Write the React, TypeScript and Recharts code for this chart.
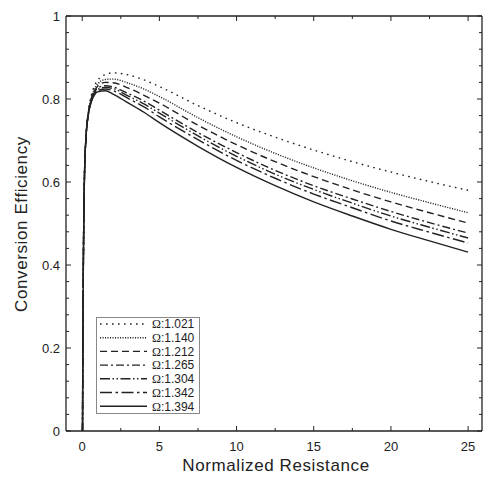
import { Legend, Line, LineChart, XAxis, YAxis } from "recharts"

const resistance = [0.02, 0.04, 0.07, 0.1, 0.15, 0.25, 0.4, 0.6, 0.8, 1, 1.5, 2, 3, 4, 5, 7.5, 10, 12.5, 15, 17.5, 20, 22.5, 25]

const eff1021 = [0, 0.19, 0.38, 0.5, 0.62, 0.71, 0.77, 0.81, 0.832, 0.845, 0.859, 0.863, 0.858, 0.846, 0.83, 0.784, 0.743, 0.708, 0.677, 0.649, 0.624, 0.601, 0.58]
const eff1140 = [0, 0.19, 0.38, 0.5, 0.62, 0.71, 0.768, 0.805, 0.825, 0.836, 0.847, 0.848, 0.838, 0.824, 0.806, 0.755, 0.709, 0.669, 0.634, 0.603, 0.575, 0.55, 0.526]
const eff1212 = [0, 0.19, 0.38, 0.5, 0.62, 0.71, 0.766, 0.802, 0.82, 0.831, 0.84, 0.839, 0.826, 0.809, 0.79, 0.737, 0.69, 0.649, 0.613, 0.581, 0.552, 0.526, 0.501]
const eff1265 = [0, 0.19, 0.38, 0.5, 0.62, 0.71, 0.765, 0.8, 0.817, 0.826, 0.832, 0.829, 0.813, 0.795, 0.773, 0.719, 0.671, 0.628, 0.591, 0.559, 0.529, 0.502, 0.477]
const eff1304 = [0, 0.19, 0.38, 0.5, 0.62, 0.71, 0.764, 0.798, 0.814, 0.823, 0.828, 0.825, 0.807, 0.788, 0.766, 0.711, 0.662, 0.619, 0.582, 0.549, 0.518, 0.491, 0.465]
const eff1342 = [0, 0.19, 0.38, 0.5, 0.62, 0.71, 0.763, 0.796, 0.812, 0.82, 0.824, 0.82, 0.801, 0.781, 0.757, 0.702, 0.652, 0.609, 0.571, 0.538, 0.506, 0.479, 0.453]
const eff1394 = [0, 0.19, 0.38, 0.5, 0.62, 0.71, 0.762, 0.794, 0.81, 0.817, 0.82, 0.812, 0.79, 0.768, 0.743, 0.686, 0.635, 0.591, 0.552, 0.518, 0.486, 0.458, 0.431]

const xMajor = [0, 5, 10, 15, 20, 25]
const xMinor = [2.5, 7.5, 12.5, 17.5, 22.5]
const yMajor = [0, 0.2, 0.4, 0.6, 0.8, 1]
const yLabels = ["0", "0.2", "0.4", "0.6", "0.8", "1"]

const ink = "#222"

const series = [
  { key: "o1021", label: "1.021", values: eff1021, dash: "1.6 4.4" },
  { key: "o1140", label: "1.140", values: eff1140, dash: "1.1 1.4" },
  { key: "o1212", label: "1.212", values: eff1212, dash: "7 4" },
  { key: "o1265", label: "1.265", values: eff1265, dash: "8 3 2 3" },
  { key: "o1304", label: "1.304", values: eff1304, dash: "10 2.5 1.5 2.5 1.5 2.5" },
  { key: "o1342", label: "1.342", values: eff1342, dash: "12 3.5 2.5 3.5" },
  { key: "o1394", label: "1.394", values: eff1394, dash: undefined },
]

const data = resistance.map((x, i) => {
  const row: Record<string, number> = { x }
  series.forEach((s) => (row[s.key] = s.values[i]))
  return row
})

// minor y ticks every 0.04
const yAll: number[] = []
for (let k = 0; k <= 25; k++) yAll.push(Math.round(k * 4) / 100)
const xAll = [...xMajor, ...xMinor].sort((a, b) => a - b)

const isMajorY = (v: number) => yMajor.some((m) => Math.abs(m - v) < 1e-6)

function BottomTick(props: any) {
  const { x, y, payload } = props
  const major = xMajor.includes(payload.value)
  return (
    <g>
      <line x1={x} x2={x} y1={y} y2={y - (major ? 5 : 3)} stroke={ink} />
      {major && (
        <text x={x} y={y + 20} textAnchor="middle" fontSize={13} fill={ink}>
          {payload.value}
        </text>
      )}
    </g>
  )
}

function TopTick(props: any) {
  const { x, y, payload } = props
  const major = xMajor.includes(payload.value)
  return <line x1={x} x2={x} y1={y} y2={y + (major ? 5 : 3)} stroke={ink} />
}

function LeftTick(props: any) {
  const { x, y, payload } = props
  const major = isMajorY(payload.value)
  const idx = yMajor.findIndex((m) => Math.abs(m - payload.value) < 1e-6)
  return (
    <g>
      <line x1={x} x2={x + (major ? 5 : 3)} y1={y} y2={y} stroke={ink} />
      {major && (
        <text x={x - 6} y={y + 4.5} textAnchor="end" fontSize={13} fill={ink}>
          {yLabels[idx]}
        </text>
      )}
    </g>
  )
}

function RightTick(props: any) {
  const { x, y, payload } = props
  const major = isMajorY(payload.value)
  return <line x1={x} x2={x - (major ? 5 : 3)} y1={y} y2={y} stroke={ink} />
}

function LegendBox() {
  return (
    <svg width={104} height={97} style={{ display: "block" }}>
      <rect x={0.5} y={0.5} width={103} height={96} fill="#fff" stroke="#888" />
      {series.map((s, i) => {
        const cy = 7 + i * 13.7
        return (
          <g key={s.key}>
            <line x1={4} x2={51} y1={cy} y2={cy} stroke={ink} strokeWidth={1.4} strokeDasharray={s.dash} />
            <text x={56} y={cy + 4.3} fontSize={12} fill={ink} fontFamily="Liberation Sans, Arial, sans-serif">
              <tspan fontFamily="Liberation Serif, serif">Ω</tspan>:{s.label}
            </text>
          </g>
        )
      })}
    </svg>
  )
}

export default function App() {
  return (
    <div
      style={{
        position: "absolute",
        left: 0,
        top: 0,
        width: 490,
        height: 479,
        background: "#fff",
        fontFamily: "Liberation Sans, Arial, sans-serif",
      }}
    >
      <LineChart width={490} height={479} data={data} margin={{ top: 15, right: 7, bottom: 18, left: 26 }}>
        <XAxis
          xAxisId="bottom"
          dataKey="x"
          type="number"
          domain={[-1.05, 25.9]}
          allowDataOverflow
          ticks={xAll}
          interval={0}
          tickSize={0}
          tickMargin={0}
          tickLine={false}
          height={30}
          axisLine={{ stroke: ink, strokeWidth: 1.3 }}
          tick={<BottomTick />}
        />
        <XAxis
          xAxisId="top"
          orientation="top"
          dataKey="x"
          type="number"
          domain={[-1.05, 25.9]}
          allowDataOverflow
          ticks={xAll}
          interval={0}
          tickSize={0}
          tickMargin={0}
          tickLine={false}
          height={1}
          axisLine={{ stroke: ink, strokeWidth: 1.3 }}
          tick={<TopTick />}
        />
        <YAxis
          yAxisId="left"
          type="number"
          domain={[0, 1]}
          allowDataOverflow
          ticks={yAll}
          interval={0}
          tickSize={0}
          tickMargin={0}
          tickLine={false}
          width={40}
          axisLine={{ stroke: ink, strokeWidth: 1.3 }}
          tick={<LeftTick />}
        />
        <YAxis
          yAxisId="right"
          orientation="right"
          type="number"
          domain={[0, 1]}
          allowDataOverflow
          ticks={yAll}
          interval={0}
          tickSize={0}
          tickMargin={0}
          tickLine={false}
          width={1}
          axisLine={{ stroke: ink, strokeWidth: 1.3 }}
          tick={<RightTick />}
        />
        {series.map((s) => (
          <Line
            key={s.key}
            xAxisId="bottom"
            yAxisId="left"
            dataKey={s.key}
            type="monotone"
            stroke={ink}
            strokeWidth={1.4}
            strokeDasharray={s.dash}
            dot={false}
            activeDot={false}
            isAnimationActive={false}
          />
        ))}
        <Legend
          layout="vertical"
          align="center"
          verticalAlign="middle"
          content={() => <LegendBox />}
          wrapperStyle={{ position: "absolute", left: 96, top: 317, width: 104, height: 97 }}
        />
      </LineChart>
      <div
        style={{
          position: "absolute",
          left: 0,
          width: 490,
          top: 456,
          textAlign: "center",
          paddingLeft: 62,
          boxSizing: "border-box",
          fontSize: 17,
          letterSpacing: 0.6,
          color: ink,
        }}
      >
        Normalized Resistance
      </div>
      <div
        style={{
          position: "absolute",
          left: 22,
          top: 224,
          transform: "translate(-50%, -50%) rotate(-90deg)",
          whiteSpace: "nowrap",
          fontSize: 17,
          letterSpacing: 0.6,
          color: ink,
        }}
      >
        Conversion Efficiency
      </div>
    </div>
  )
}
